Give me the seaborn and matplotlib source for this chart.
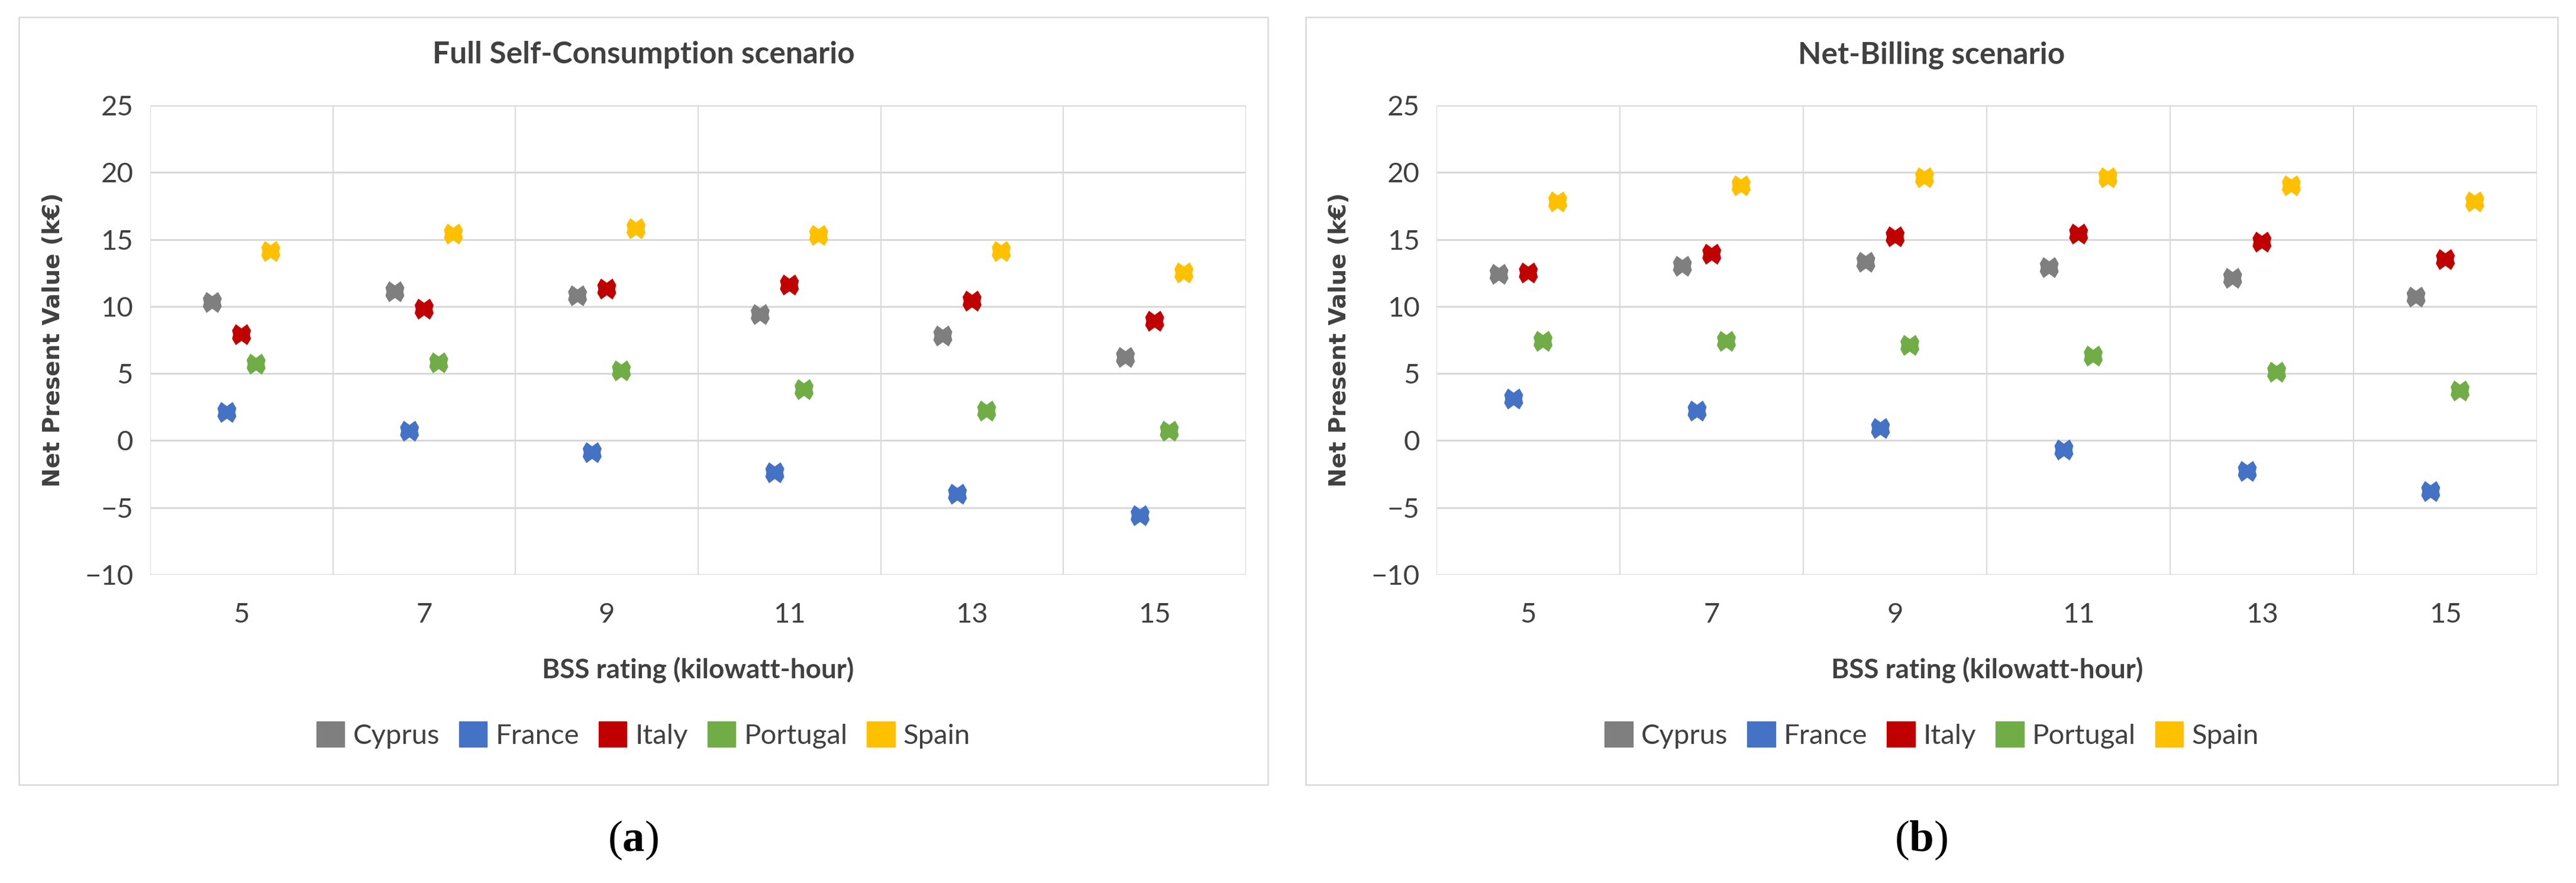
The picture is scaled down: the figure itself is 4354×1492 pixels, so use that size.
import pandas as pd
import matplotlib.pyplot as plt
import matplotlib.patches as mpatches
import seaborn as sns

# BSS rating (kWh) categories and countries
ratings = [5, 7, 9, 11, 13, 15]
countries = ["Cyprus", "France", "Italy", "Portugal", "Spain"]
colors = ["#7f7f7f", "#4472c4", "#c00000", "#70ad47", "#ffc000"]
titles = ["Full Self-Consumption scenario", "Net-Billing scenario"]

# Net present value (k€), Full Self-Consumption scenario
fsc_cyprus = [10.3, 11.1, 10.8, 9.4, 7.8, 6.2]
fsc_france = [2.1, 0.7, -0.9, -2.4, -4.0, -5.6]
fsc_italy = [7.9, 9.8, 11.3, 11.6, 10.4, 8.9]
fsc_portugal = [5.7, 5.8, 5.2, 3.8, 2.2, 0.7]
fsc_spain = [14.1, 15.4, 15.8, 15.3, 14.1, 12.5]

# Net present value (k€), Net-Billing scenario
nb_cyprus = [12.4, 13.0, 13.3, 12.9, 12.1, 10.7]
nb_france = [3.1, 2.2, 0.9, -0.7, -2.3, -3.8]
nb_italy = [12.5, 13.9, 15.2, 15.4, 14.8, 13.5]
nb_portugal = [7.4, 7.4, 7.1, 6.3, 5.1, 3.7]
nb_spain = [17.8, 19.0, 19.6, 19.6, 19.0, 17.8]

series = {
    titles[0]: [fsc_cyprus, fsc_france, fsc_italy, fsc_portugal, fsc_spain],
    titles[1]: [nb_cyprus, nb_france, nb_italy, nb_portugal, nb_spain],
}

# long table, each country nudged sideways inside its rating slot
rows = []
for scen, vals in series.items():
    for i, (country, ys) in enumerate(zip(countries, vals)):
        for r, y in zip(ratings, ys):
            rows.append({"scenario": scen, "country": country, "rating": r,
                         "npv": y, "xpos": r + (i - 2) * 0.16})
df = pd.DataFrame(rows)

sns.set_theme(style="white")
plt.rcParams["font.family"] = ["Lato", "DejaVu Sans"]
plt.rcParams["mathtext.fontset"] = "custom"
plt.rcParams["mathtext.rm"] = "Liberation Serif"
plt.rcParams["mathtext.bf"] = "Liberation Serif:bold"

txt = "#404040"
grid_c = "#d9d9d9"

# notched "x" marker like the Excel one
shape = [(-0.55, 1.0), (0.0, 0.6), (0.55, 1.0), (0.9, 0.4), (0.8, 0.0),
         (0.9, -0.4), (0.55, -1.0), (0.0, -0.6), (-0.55, -1.0),
         (-0.9, -0.4), (-0.8, 0.0), (-0.9, 0.4), (-0.55, 1.0)]

fig = plt.figure(figsize=(43.54, 14.92), dpi=100)
ax_pos = [[0.0583, 0.3492, 0.4254, 0.5315], [0.5577, 0.3492, 0.4272, 0.5315]]
frames = [[0.0074, 0.1113, 0.4848, 0.8693], [0.5069, 0.1113, 0.4860, 0.8693]]
captions = ["a", "b"]

for k, scen in enumerate(titles):
    ax = fig.add_axes(ax_pos[k])
    d = df[df["scenario"] == scen]
    sns.scatterplot(data=d, x="xpos", y="npv", hue="country", hue_order=countries,
                    palette=colors, marker=shape, s=650, linewidth=0,
                    legend=False, ax=ax, zorder=3)
    ax.set_xlim(4, 16)
    ax.set_ylim(-10, 25)
    ax.set_xticks(ratings)
    ax.set_xticks(range(4, 17, 2), minor=True)
    ax.set_yticks(range(-10, 26, 5))
    ax.grid(False)
    ax.grid(which="minor", axis="x", color=grid_c, lw=1.5)
    ax.grid(which="major", axis="y", color=grid_c, lw=2.2)
    ax.set_axisbelow(True)
    for sp in ax.spines.values():
        sp.set_visible(False)
    ax.tick_params(axis="x", which="both", length=0, pad=34, labelsize=34, labelcolor=txt)
    ax.tick_params(axis="y", length=8.6, width=2.2, color=grid_c, pad=12,
                   labelsize=34, labelcolor=txt)
    ax.set_xlabel("BSS rating (kilowatt-hour)", fontsize=33, fontweight="bold", color=txt)
    ax.xaxis.set_label_coords(0.5, -0.175)
    ax.set_ylabel("Net Present Value (k€)", fontsize=28, fontweight="bold", color=txt,
                  family="DejaVu Sans")
    ax.yaxis.set_label_coords(-0.078, 0.5)

    fx, fy, fw, fh = frames[k]
    fig.add_artist(mpatches.Rectangle((fx, fy), fw, fh, transform=fig.transFigure,
                                      fill=False, ec=grid_c, lw=1.8))
    cx = fx + fw / 2
    fig.text(cx, 1 - 93 / 1492, scen, ha="center", va="center", fontsize=37,
             fontweight="bold", color=txt)
    handles = [mpatches.Patch(color=c, label=n) for c, n in zip(colors, countries)]
    leg = fig.legend(handles=handles, loc="center", bbox_to_anchor=(cx, 1 - 1242 / 1492),
                     ncol=5, frameon=False, fontsize=34, handlelength=1.0, handleheight=1.0,
                     handletextpad=0.3, columnspacing=0.7)
    for t in leg.get_texts():
        t.set_color(txt)
    fig.text(cx - 0.004, 1 - 1420 / 1492, "($\\mathbf{" + captions[k] + "}$)",
             ha="center", va="center", fontsize=54, family="Liberation Serif", color="black")

plt.savefig("out.png", dpi=100)
plt.close()
